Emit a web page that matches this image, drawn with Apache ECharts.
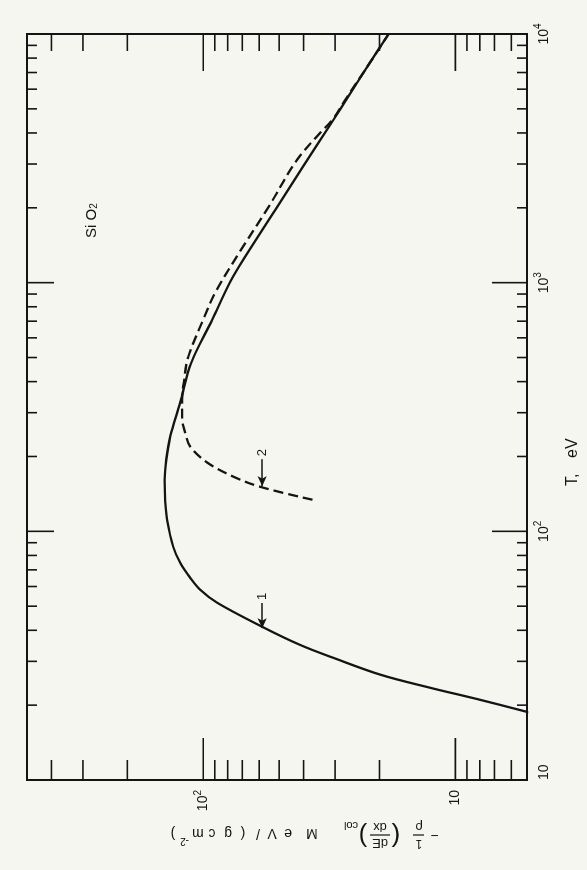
<!DOCTYPE html>
<html><head><meta charset="utf-8">
<script src="https://cdn.jsdelivr.net/npm/echarts@6/dist/echarts.min.js"></script>
<style>
html,body{margin:0;padding:0;background:#f6f6f1;overflow:hidden;}
#wrap{position:relative;width:587px;height:870px;overflow:hidden;background:#f6f6f1;}
#chart{position:absolute;left:0;top:0;width:870px;height:587px;transform-origin:0 0;transform:translateY(870px) rotate(-90deg);}
</style></head><body>
<div id="wrap"><div id="chart"></div></div>
<script>
// ---- data (T in eV, stopping power in MeV/(g cm^-2)) ----
const curve1T = [18.7, 21.0, 23.5, 26.5, 31.0, 34.9, 41.3, 51.6, 58.2, 65.0, 74.7, 86.6, 111, 134, 161, 194, 240, 329, 476, 710, 1000, 1237, 1967, 2930, 4529, 5604, 7679, 10000];
const curve1S = [5.1, 7.96, 12.6, 19.8, 30.5, 41.2, 58.3, 88, 102.8, 112.6, 123.4, 131.5, 139, 141.6, 142.3, 140.2, 135.2, 123.4, 111.6, 92.1, 78.5, 69.4, 51.7, 40.2, 30.4, 26.6, 21.8, 18.4];
const curve2T = [134, 151, 166, 189, 219, 249, 281, 338, 407, 503, 710, 912, 1320, 2022, 3126, 4015, 4529, 5604, 7679, 10000];
const curve2S = [36.9, 59.4, 76.0, 96.4, 112.6, 117.9, 121.2, 121.2, 119.0, 114.7, 100, 89.6, 72.0, 55.0, 42.4, 34.3, 30.7, 26.8, 21.8, 18.4];

const tMajorTicks = [10, 100, 1000, 10000];
const tMinorTicks = [20,30,40,50,60,70,80,90,200,300,400,500,600,700,800,900,2000,3000,4000,5000,6000,7000,8000,9000];
const sMajorTicks = [10, 100];
const sMinorTicks = [6,7,8,9,20,30,40,50,60,70,80,90,200,300,400];
const tTickLabels = {1:'10', 2:'10{s|2}', 3:'10{s|3}', 4:'10{s|4}'};
const sTickLabels = {1:'10', 2:'10{s|2}'};

const arrow1 = {label:'1', fromT:51.5, toT:40.8, S:58.4};
const arrow2 = {label:'2', fromT:195, toT:152, S:58.4};

const FONT = 'Liberation Sans, Arial, sans-serif';
const INK = '#141414';

const chart = echarts.init(document.getElementById('chart'));

const tickData = [];
tMajorTicks.forEach(v => tickData.push([v, 100, 0, 1]));
tMinorTicks.forEach(v => tickData.push([v, 100, 0, 0]));
sMajorTicks.forEach(v => tickData.push([100, v, 1, 1]));
sMinorTicks.forEach(v => tickData.push([100, v, 1, 0]));

function zip(a, b){ return a.map((v,i)=>[v, b[i]]); }

function arrowLine(a){
  return {
    symbol:['none','arrow'], symbolSize:[7,10], silent:true,
    lineStyle:{type:'solid', width:1.5, color:INK},
    label:{show:true, position:'start', formatter:a.label, color:INK, fontSize:13, fontFamily:FONT, distance:3},
    data:[[{coord:[a.fromT, a.S]},{coord:[a.toT, a.S]}]]
  };
}

const richSup = {s:{fontSize:10, lineHeight:10, verticalAlign:'top', fontFamily:FONT, color:INK}};

function glyphs(list, y, size){
  return list.map(g => ({type:'text', x:g[1], y:y, style:{text:g[0], fontSize:size, fontFamily:FONT, fill:INK, align:'center', verticalAlign:'middle'}}));
}

const titleChildren = [].concat(
  glyphs([['−',3]], 0, 14),
  [{type:'text', x:19, y:-8, style:{text:'1', fontSize:12, fontFamily:FONT, fill:INK, align:'center', verticalAlign:'middle'}},
   {type:'line', shape:{x1:14,y1:0,x2:25,y2:0}, style:{stroke:INK, lineWidth:1.2}},
   {type:'text', x:19, y:8, style:{text:'ρ', fontSize:13, fontFamily:FONT, fill:INK, align:'center', verticalAlign:'middle'}},
   {type:'text', x:42, y:0, style:{text:'(', fontSize:26, fontFamily:FONT, fill:INK, align:'center', verticalAlign:'middle'}},
   {type:'text', x:58, y:-8, style:{text:'dE', fontSize:13, fontFamily:FONT, fill:INK, align:'center', verticalAlign:'middle'}},
   {type:'line', shape:{x1:48,y1:0,x2:68,y2:0}, style:{stroke:INK, lineWidth:1.2}},
   {type:'text', x:58, y:8, style:{text:'dx', fontSize:13, fontFamily:FONT, fill:INK, align:'center', verticalAlign:'middle'}},
   {type:'text', x:75, y:0, style:{text:')', fontSize:26, fontFamily:FONT, fill:INK, align:'center', verticalAlign:'middle'}},
   {type:'text', x:80, y:10, style:{text:'col', fontSize:11, fontFamily:FONT, fill:INK, align:'left', verticalAlign:'middle'}}],
  glyphs([['M',126],['e',150],['V',166],['/',180],['(',195],['g',210],['c',226],['m',240],[')',265]], 2, 14),
  [{type:'text', x:249, y:-6, style:{text:'-2', fontSize:10, fontFamily:FONT, fill:INK, align:'left', verticalAlign:'middle'}}]
);

const option = {
  backgroundColor:'#f6f6f1',
  animation:false,
  grid:{left:90, right:34, top:27, bottom:60, show:true, borderColor:INK, borderWidth:2, backgroundColor:'transparent'},
  xAxis:{type:'log', logBase:10, min:10, max:10000,
    axisLine:{show:false}, axisTick:{show:false}, splitLine:{show:false},
    axisLabel:{margin:6, color:INK, fontSize:14, fontFamily:FONT, lineHeight:22, alignMinLabel:'left',
      formatter:function(v){ const e=Math.round(Math.log10(v)); return Math.abs(Math.log10(v)-e)<1e-6 && tTickLabels[e] ? tTickLabels[e] : ''; },
      rich:richSup}},
  yAxis:{type:'log', logBase:10, min:5.2, max:500,
    axisLine:{show:false}, axisTick:{show:false}, splitLine:{show:false},
    axisLabel:{margin:10, color:INK, fontSize:14, fontFamily:FONT, lineHeight:20,
      formatter:function(v){ const e=Math.round(Math.log10(v)); return Math.abs(Math.log10(v)-e)<1e-6 && sTickLabels[e] ? sTickLabels[e] : ''; },
      rich:richSup}},
  series:[
    {type:'line', name:'1', data:zip(curve1T, curve1S), smooth:0.35, symbol:'none', clip:true,
      lineStyle:{color:INK, width:2.3}, markLine:arrowLine(arrow1)},
    {type:'line', name:'2', data:zip(curve2T, curve2S), smooth:0.35, symbol:'none', clip:true,
      lineStyle:{color:INK, width:2.3, type:[10,5]}, markLine:arrowLine(arrow2)},
    {type:'custom', coordinateSystem:'cartesian2d', data:tickData, silent:true, clip:false, z:5,
      renderItem:function(params, api){
        const cs = params.coordSys;
        const kind = api.value(2), major = api.value(3);
        const p = api.coord([api.value(0), api.value(1)]);
        const st = {stroke:INK, lineWidth:1.6};
        if (kind === 0){
          const x = p[0], lt = major?27:10, lb = major?35:10;
          return {type:'group', children:[
            {type:'line', shape:{x1:x, y1:cs.y, x2:x, y2:cs.y+lt}, style:st},
            {type:'line', shape:{x1:x, y1:cs.y+cs.height, x2:x, y2:cs.y+cs.height-lb}, style:st}]};
        }
        const y = p[1], ll = major?42:20, lr = major?37:17;
        return {type:'group', children:[
          {type:'line', shape:{x1:cs.x, y1:y, x2:cs.x+ll, y2:y}, style:st},
          {type:'line', shape:{x1:cs.x+cs.width, y1:y, x2:cs.x+cs.width-lr, y2:y}, style:st}]};
      }}
  ],
  graphic:[
    {type:'text', left:632, top:84, style:{text:'Si O{b|2}', fontSize:15, fontFamily:FONT, fill:INK,
      rich:{b:{fontSize:10, verticalAlign:'bottom', fontFamily:FONT, fill:INK}}}},
    {type:'text', left:384, top:565, style:{text:'T,', fontSize:16, fontFamily:FONT, fill:INK}},
    {type:'text', left:412, top:565, style:{text:'eV', fontSize:16, fontFamily:FONT, fill:INK}},
    {type:'group', x:35, y:438, rotation:Math.PI/2, children:titleChildren}
  ]
};
chart.setOption(option);
</script>
</body></html>
